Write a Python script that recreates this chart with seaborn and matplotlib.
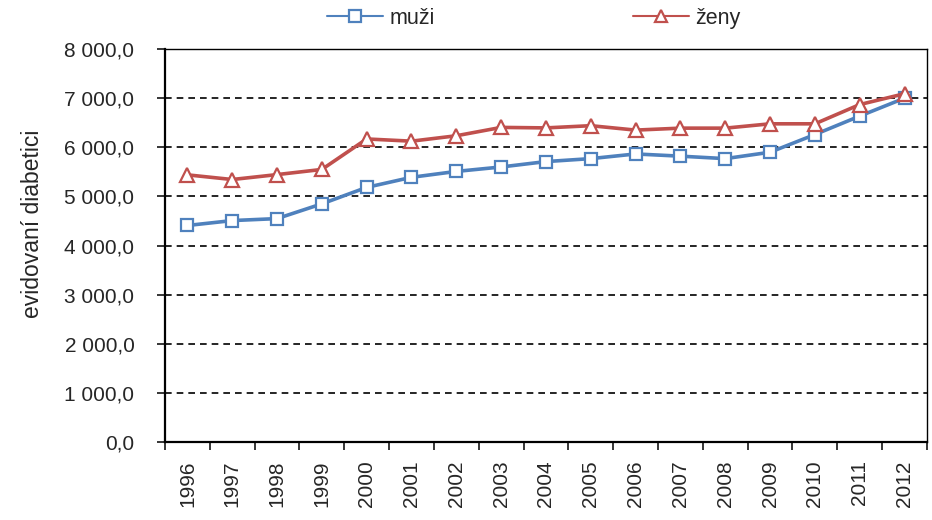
import numpy as np
import pandas as pd
import matplotlib
matplotlib.use('Agg')
import matplotlib.pyplot as plt
import matplotlib.ticker as mticker
from matplotlib.lines import Line2D
import seaborn as sns

years = [1996, 1997, 1998, 1999, 2000, 2001, 2002, 2003, 2004,
         2005, 2006, 2007, 2008, 2009, 2010, 2011, 2012]
muzi = [4410, 4510, 4550, 4850, 5185, 5390, 5510, 5600, 5710,
        5770, 5865, 5820, 5770, 5900, 6260, 6635, 7000]
zeny = [5440, 5345, 5445, 5550, 6170, 6125, 6235, 6405, 6395,
        6440, 6350, 6390, 6390, 6478, 6478, 6870, 7090]

sns.set_style('white')
plt.rcParams['font.family'] = ['Liberation Sans', 'DejaVu Sans']

idx = list(range(len(years)))
series = [('muži', muzi, '#4F81BD', 's', 8.5), ('ženy', zeny, '#C0504D', '^', 9.5)]

fig = plt.figure(figsize=(9.32, 5.2), dpi=100)
ax = fig.add_axes([0.177, 0.1494, 0.8176, 0.7564])

for name, vals, col, mk, ms in series:
    sns.lineplot(x=idx, y=vals, color=col, marker=mk, markersize=ms,
                 markerfacecolor='white', markeredgecolor=col,
                 markeredgewidth=1.6, linewidth=2.6, ax=ax, zorder=3)

ax.set_xlim(-0.5, len(years) - 0.5)
ax.set_ylim(0, 8000)

# y axis
ax.yaxis.set_major_locator(mticker.MultipleLocator(1000))
ax.yaxis.set_major_formatter(mticker.FuncFormatter(
    lambda v, p: f'{v:,.1f}'.replace(',', ' ').replace('.', ',')))
ax.grid(axis='y', color='black', linestyle=(0, (4, 3)), linewidth=1.2)
ax.tick_params(axis='y', direction='out', length=6, width=1.3, labelsize=15,
               left=True, pad=16)

# x axis: labels at centers, ticks at boundaries
ax.set_xticks(idx)
ax.set_xticklabels([str(y) for y in years], rotation=90, fontsize=15)
ax.set_xticks(np.arange(-0.5, len(years)), minor=True)
ax.tick_params(axis='x', which='major', length=0, pad=13)
ax.tick_params(axis='x', which='minor', direction='out', length=6, width=1.3,
               bottom=True)

for s in ax.spines.values():
    s.set_visible(True)
    s.set_color('black')
    s.set_linewidth(1.6)
ax.spines['top'].set_linewidth(1.0)
ax.spines['right'].set_linewidth(1.0)

ax.set_xlabel('')
ax.set_ylabel('evidovaní diabetici', fontsize=16.5)
ax.yaxis.set_label_coords(-0.159, 0.556)

# legend on top
handles = [Line2D([], [], color=col, marker=mk, markersize=ms - 0.5,
                  markerfacecolor='white', markeredgewidth=1.6, linewidth=1.5)
           for _, _, col, mk, ms in series]
fig.legend(handles, [s[0] for s in series], loc='center',
           bbox_to_anchor=(0.573, 0.965), ncol=2, frameon=False, fontsize=15.5,
           handlelength=2.6, columnspacing=9.2, handletextpad=0.3)

fig.savefig('out.png', dpi=100)
